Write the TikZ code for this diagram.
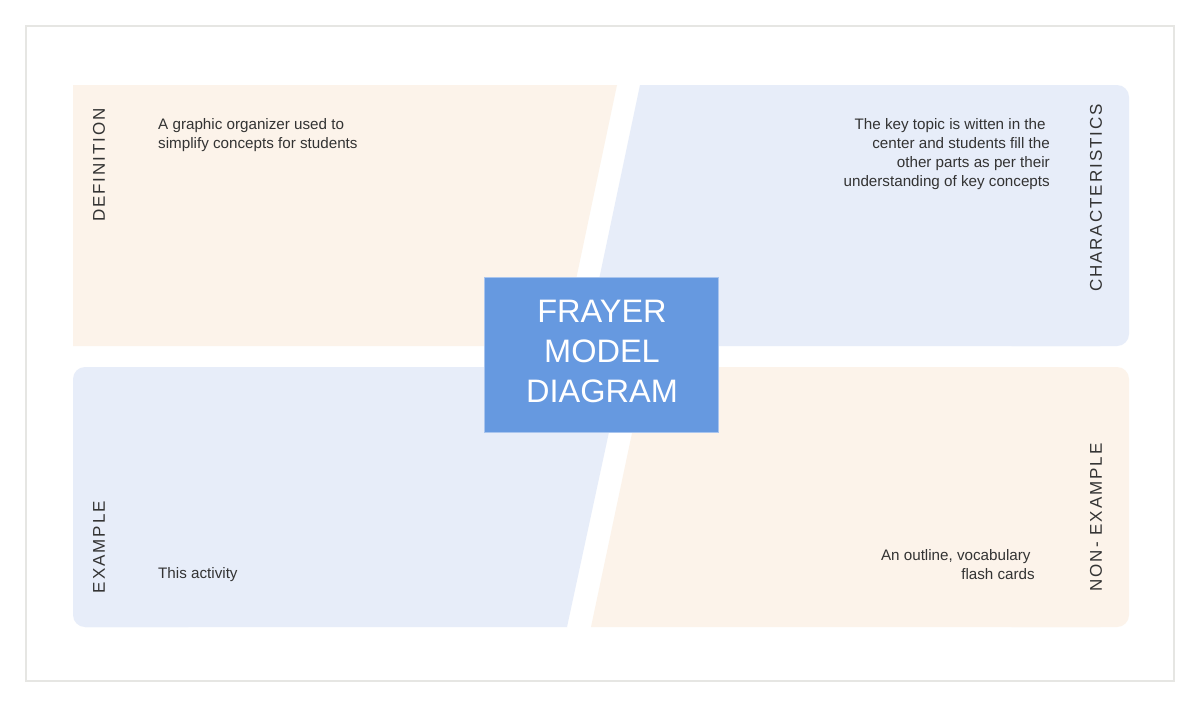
\documentclass[tikz,border=0pt]{standalone}
\usepackage{fontspec}
\setmainfont{Liberation Sans}
\newfontfamily\lblfont[LetterSpace=11.5]{Liberation Sans}
\definecolor{peach}{HTML}{FCF3EA}
\definecolor{paleblue}{HTML}{E7EDF9}
\definecolor{boxblue}{HTML}{6699E0}
\definecolor{boxedge}{HTML}{A9C5EE}
\definecolor{framegray}{HTML}{E6E6E3}
\definecolor{txt}{HTML}{333333}
\tikzset{
  lbl/.style={rotate=90, inner sep=0pt, text=txt, font=\lblfont\fontsize{17}{20}\selectfont},
  body/.style={inner sep=0pt, text=txt, font=\fontsize{15.2}{19}\selectfont},
}
\begin{document}
\begin{tikzpicture}[x=1pt,y=-1pt]
\useasboundingbox (0,0) rectangle (1200,707);
\fill[white] (0,0) rectangle (1200,707);
% frame
\draw[framegray, line width=1.8pt] (26,26) rectangle (1174,681);
% quadrants
\fill[peach] (73,85) -- (617,85) -- (562,346) -- (73,346) -- cycle;
\fill[paleblue] (640,85) -- (1100,85) -- (1100,346) -- (585,346) -- cycle;
\fill[paleblue, rounded corners=12pt] (1000,85) rectangle (1129,346);
\fill[paleblue] (85,367) -- (623,367) -- (567,627) -- (85,627) -- cycle;
\fill[paleblue, rounded corners=12pt] (73,367) rectangle (200,627);
\fill[peach] (646,367) -- (1100,367) -- (1100,627) -- (591,627) -- cycle;
\fill[peach, rounded corners=12pt] (1000,367) rectangle (1129,627);
% centre box
\node[draw=boxedge, fill=boxblue, line width=1pt, minimum width=234pt, minimum height=155pt, inner sep=0pt] (box) at (601,354.5) {};
\node[align=center, inner sep=0pt, text=white, font=\fontsize{32.5}{40}\selectfont] (title) at (602,351.5) {FRAYER\\MODEL\\DIAGRAM};
% side labels
\node[lbl] (ldef) at (99,165) {DEFINITION};
\node[lbl] (lchar) at (1096,198) {CHARACTERISTICS};
\node[lbl] (lex) at (99,547) {EXAMPLE};
\node[lbl] (lnon) at (1096,517.5) {NON- EXAMPLE};
% body texts
\node[body, align=left, anchor=north west] (tdef) at (158,118) {A graphic organizer used to\\simplify concepts for students};
\node[body, align=right, anchor=north east] (tchar) at (1050,118) {The key topic is witten in the\hspace*{4.2pt}\\center and students fill the\\other parts as per their\hspace*{4.2pt}\\understanding of key concepts};
\node[body, anchor=base west] (tex) at (158,578.5) {This activity};
\node[body, align=right, anchor=north east] (tnon) at (1035,549) {An outline, vocabulary\hspace*{4.2pt}\\flash cards};
\end{tikzpicture}
\end{document}
